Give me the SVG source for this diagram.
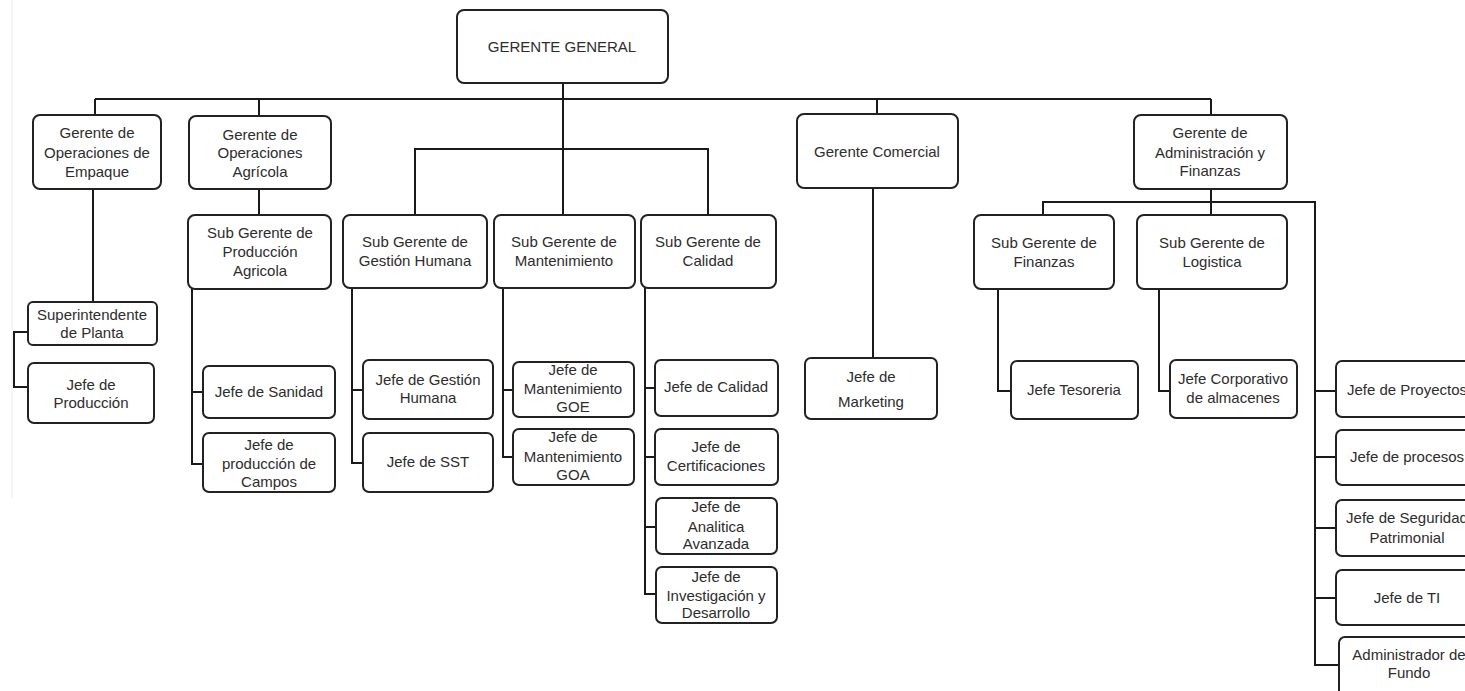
<svg xmlns="http://www.w3.org/2000/svg" width="1465" height="691" viewBox="0 0 1465 691">
<style>
.b{fill:#fff;stroke:#222;stroke-width:2;}
.t{font-family:"Liberation Sans",Arial,sans-serif;font-size:15px;fill:#2d2d2d;text-anchor:middle;}
.c{fill:none;stroke:#1a1a1a;stroke-width:2;}
</style>
<rect width="1465" height="691" fill="#fff"/>
<line x1="12" y1="0" x2="12" y2="498" stroke="#ececec" stroke-width="1"/>
<g id="connectors" class="c">
<path d="M563,83 V215"/>
<path d="M95,99 H1211"/>
<path d="M95,99 V115 M259,99 V116 M877,99 V114 M1211,99 V115"/>
<path d="M415,215 V149 H708 V215"/>
<path d="M93,189 V302"/>
<path d="M28,332 H14 V387 H28"/>
<path d="M259,189 V215"/>
<path d="M192,289 V464 H203 M192,392 H203"/>
<path d="M352,288 V463 H363 M352,390 H363"/>
<path d="M503,288 V457 H513 M503,390 H513"/>
<path d="M645,288 V594 H656 M645,388 H655 M645,457 H655 M645,527 H656"/>
<path d="M873,188 V358"/>
<path d="M1211,189 V215"/>
<path d="M1043,215 V202 H1315 V665 H1339"/>
<path d="M1315,391 H1336 M1315,457 H1336 M1315,528 H1336 M1315,598 H1336"/>
<path d="M998,289 V391 H1011"/>
<path d="M1159,289 V391 H1170"/>
</g>
<g id="gerente-general"><rect class="b" x="457" y="10" width="211" height="73" rx="7"/><text class="t" x="562" y="52">GERENTE GENERAL</text></g>
<g id="g-empaque"><rect class="b" x="33" y="115" width="128" height="74" rx="7"/><text class="t" x="97" y="138">Gerente de</text><text class="t" x="97" y="158">Operaciones de</text><text class="t" x="97" y="177">Empaque</text></g>
<g id="g-agricola"><rect class="b" x="189" y="116" width="142" height="73" rx="7"/><text class="t" x="260" y="140">Gerente de</text><text class="t" x="260" y="158">Operaciones</text><text class="t" x="260" y="177">Agrícola</text></g>
<g id="g-comercial"><rect class="b" x="797" y="114" width="161" height="74" rx="7"/><text class="t" x="877" y="157">Gerente Comercial</text></g>
<g id="g-admin"><rect class="b" x="1134" y="115" width="153" height="74" rx="7"/><text class="t" x="1210" y="138">Gerente de</text><text class="t" x="1210" y="158">Administración y</text><text class="t" x="1210" y="176">Finanzas</text></g>
<g id="sg-produccion"><rect class="b" x="188" y="215" width="143" height="74" rx="7"/><text class="t" x="260" y="238">Sub Gerente de</text><text class="t" x="260" y="257">Producción</text><text class="t" x="260" y="276">Agricola</text></g>
<g id="sg-gestion"><rect class="b" x="343" y="215" width="144" height="73" rx="7"/><text class="t" x="415" y="247">Sub Gerente de</text><text class="t" x="415" y="266">Gestión Humana</text></g>
<g id="sg-mant"><rect class="b" x="494" y="215" width="141" height="73" rx="7"/><text class="t" x="564" y="247">Sub Gerente de</text><text class="t" x="564" y="266">Mantenimiento</text></g>
<g id="sg-calidad"><rect class="b" x="641" y="215" width="135" height="73" rx="7"/><text class="t" x="708" y="247">Sub Gerente de</text><text class="t" x="708" y="266">Calidad</text></g>
<g id="sg-finanzas"><rect class="b" x="974" y="215" width="140" height="74" rx="7"/><text class="t" x="1044" y="248">Sub Gerente de</text><text class="t" x="1044" y="267">Finanzas</text></g>
<g id="sg-logistica"><rect class="b" x="1137" y="215" width="150" height="74" rx="7"/><text class="t" x="1212" y="248">Sub Gerente de</text><text class="t" x="1212" y="267">Logistica</text></g>
<g id="superintendente"><rect class="b" x="28" y="302" width="129" height="43" rx="5"/><text class="t" x="92" y="320">Superintendente</text><text class="t" x="92" y="338">de Planta</text></g>
<g id="j-produccion"><rect class="b" x="28" y="363" width="126" height="60" rx="6"/><text class="t" x="91" y="390">Jefe de</text><text class="t" x="91" y="408">Producción</text></g>
<g id="j-sanidad"><rect class="b" x="203" y="366" width="132" height="52" rx="6"/><text class="t" x="269" y="397">Jefe de Sanidad</text></g>
<g id="j-campos"><rect class="b" x="203" y="433" width="132" height="59" rx="6"/><text class="t" x="269" y="450">Jefe de</text><text class="t" x="269" y="469">producción de</text><text class="t" x="269" y="487">Campos</text></g>
<g id="j-gestion"><rect class="b" x="363" y="360" width="130" height="59" rx="6"/><text class="t" x="428" y="385">Jefe de Gestión</text><text class="t" x="428" y="403">Humana</text></g>
<g id="j-sst"><rect class="b" x="363" y="433" width="130" height="59" rx="6"/><text class="t" x="428" y="467">Jefe de SST</text></g>
<g id="j-goe"><rect class="b" x="513" y="362" width="121" height="55" rx="6"/><text class="t" x="573" y="375">Jefe de</text><text class="t" x="573" y="394">Mantenimiento</text><text class="t" x="573" y="412">GOE</text></g>
<g id="j-goa"><rect class="b" x="513" y="429" width="121" height="56" rx="6"/><text class="t" x="573" y="442">Jefe de</text><text class="t" x="573" y="462">Mantenimiento</text><text class="t" x="573" y="480">GOA</text></g>
<g id="j-calidad"><rect class="b" x="655" y="360" width="123" height="56" rx="6"/><text class="t" x="716" y="392">Jefe de Calidad</text></g>
<g id="j-cert"><rect class="b" x="655" y="429" width="123" height="56" rx="6"/><text class="t" x="716" y="452">Jefe de</text><text class="t" x="716" y="471">Certificaciones</text></g>
<g id="j-analitica"><rect class="b" x="656" y="498" width="121" height="56" rx="6"/><text class="t" x="716" y="512">Jefe de</text><text class="t" x="716" y="532">Analitica</text><text class="t" x="716" y="549">Avanzada</text></g>
<g id="j-investigacion"><rect class="b" x="656" y="567" width="121" height="56" rx="6"/><text class="t" x="716" y="582">Jefe de</text><text class="t" x="716" y="601">Investigación y</text><text class="t" x="716" y="618">Desarrollo</text></g>
<g id="j-marketing"><rect class="b" x="805" y="358" width="132" height="61" rx="6"/><text class="t" x="871" y="382">Jefe de</text><text class="t" x="871" y="407">Marketing</text></g>
<g id="j-tesoreria"><rect class="b" x="1011" y="361" width="127" height="58" rx="6"/><text class="t" x="1074" y="395">Jefe Tesoreria</text></g>
<g id="j-almacenes"><rect class="b" x="1170" y="360" width="127" height="58" rx="6"/><text class="t" x="1233" y="384">Jefe Corporativo</text><text class="t" x="1233" y="403">de almacenes</text></g>
<g id="j-proyectos"><rect class="b" x="1336" y="361" width="142" height="56" rx="6"/><text class="t" x="1407" y="395">Jefe de Proyectos</text></g>
<g id="j-procesos"><rect class="b" x="1336" y="430" width="142" height="55" rx="6"/><text class="t" x="1407" y="462">Jefe de procesos</text></g>
<g id="j-seguridad"><rect class="b" x="1336" y="500" width="142" height="56" rx="6"/><text class="t" x="1407" y="523">Jefe de Seguridad</text><text class="t" x="1407" y="543">Patrimonial</text></g>
<g id="j-ti"><rect class="b" x="1336" y="570" width="142" height="55" rx="6"/><text class="t" x="1407" y="603">Jefe de TI</text></g>
<g id="administrador"><rect class="b" x="1339" y="637" width="142" height="64" rx="6"/><text class="t" x="1409" y="660">Administrador de</text><text class="t" x="1409" y="678">Fundo</text></g>
</svg>
